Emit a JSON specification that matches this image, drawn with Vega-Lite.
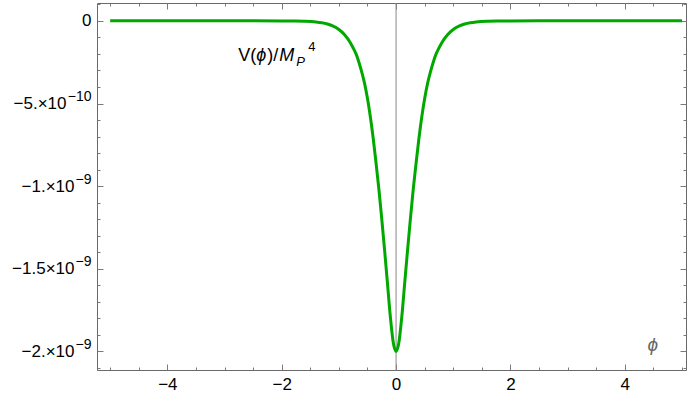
{
  "$schema": "https://vega.github.io/schema/vega-lite/v6.json",
  "width": 589,
  "height": 367,
  "autosize": "none",
  "padding": {"left": 97, "top": 3, "right": 2, "bottom": 27},
  "background": "white",
  "config": {
    "font": "Liberation Sans",
    "view": {"stroke": "#6a6a6a", "strokeWidth": 1},
    "axis": {"grid": false, "domain": false, "title": null, "tickColor": "#7a7a7a", "tickWidth": 1, "labelColor": "#000000", "labelFont": "Liberation Sans", "labelFontSize": 17, "labelOverlap": false, "labelFlush": false}
  },
  "layer": [
    {
      "data": {"values": [{}]},
      "mark": {"type": "rule", "color": "#888888", "strokeWidth": 1},
      "encoding": {
        "x": {"datum": 0, "type": "quantitative", "scale": {"domain": [-5.23, 5.07], "nice": false, "zero": false},
          "axis": {"orient": "top", "labels": false, "tickSize": -6, "values": [-4, -2, 0, 2, 4]}}
      }
    },
    {
      "data": {"values": [
        {"phi": -5, "V": 0}, {"phi": -4, "V": 0}, {"phi": -3, "V": 0}, {"phi": -2.5, "V": 0},
        {"phi": -2.0, "V": -4e-13}, {"phi": -1.8, "V": -1e-12}, {"phi": -1.6, "V": -2.6e-12}, {"phi": -1.4, "V": -7e-12},
        {"phi": -1.3, "V": -1.16e-11}, {"phi": -1.2, "V": -1.9e-11}, {"phi": -1.1, "V": -3.2e-11}, {"phi": -1.0, "V": -5.2e-11},
        {"phi": -0.9, "V": -8.4e-11}, {"phi": -0.8, "V": -1.32e-10}, {"phi": -0.75, "V": -1.64e-10}, {"phi": -0.7, "V": -2.0e-10},
        {"phi": -0.65, "V": -2.5e-10}, {"phi": -0.6, "V": -3.1e-10}, {"phi": -0.55, "V": -3.8e-10}, {"phi": -0.5, "V": -4.7e-10},
        {"phi": -0.45, "V": -5.8e-10}, {"phi": -0.4, "V": -7.1e-10}, {"phi": -0.35, "V": -8.6e-10}, {"phi": -0.3, "V": -1.02e-9},
        {"phi": -0.25, "V": -1.2e-9}, {"phi": -0.2, "V": -1.39e-9}, {"phi": -0.15, "V": -1.59e-9}, {"phi": -0.1, "V": -1.79e-9},
        {"phi": -0.05, "V": -1.944e-9}, {"phi": 0, "V": -2.0e-9},
        {"phi": 0.05, "V": -1.944e-9}, {"phi": 0.1, "V": -1.79e-9}, {"phi": 0.15, "V": -1.59e-9}, {"phi": 0.2, "V": -1.39e-9},
        {"phi": 0.25, "V": -1.2e-9}, {"phi": 0.3, "V": -1.02e-9}, {"phi": 0.35, "V": -8.6e-10}, {"phi": 0.4, "V": -7.1e-10},
        {"phi": 0.45, "V": -5.8e-10}, {"phi": 0.5, "V": -4.7e-10}, {"phi": 0.55, "V": -3.8e-10}, {"phi": 0.6, "V": -3.1e-10},
        {"phi": 0.65, "V": -2.5e-10}, {"phi": 0.7, "V": -2.0e-10}, {"phi": 0.75, "V": -1.64e-10}, {"phi": 0.8, "V": -1.32e-10},
        {"phi": 0.9, "V": -8.4e-11}, {"phi": 1.0, "V": -5.2e-11}, {"phi": 1.1, "V": -3.2e-11}, {"phi": 1.2, "V": -1.9e-11},
        {"phi": 1.3, "V": -1.16e-11}, {"phi": 1.4, "V": -7e-12}, {"phi": 1.6, "V": -2.6e-12}, {"phi": 1.8, "V": -1e-12},
        {"phi": 2.0, "V": -4e-13}, {"phi": 2.5, "V": 0}, {"phi": 3, "V": 0}, {"phi": 4, "V": 0}, {"phi": 5, "V": 0}
      ]},
      "mark": {"type": "line", "color": "#00a800", "strokeWidth": 3, "interpolate": "monotone"},
      "encoding": {
        "x": {"field": "phi", "type": "quantitative", "scale": {"domain": [-5.23, 5.07], "nice": false, "zero": false},
          "axis": {"orient": "bottom", "tickSize": -6, "labelPadding": 12, "values": [-4, -2, 0, 2, 4],
            "labelExpr": "format(datum.value, 'd')"}},
        "y": {"field": "V", "type": "quantitative", "scale": {"domain": [-2.112e-9, 1.08e-10], "nice": false, "zero": false},
          "axis": {"orient": "left", "tickSize": -6, "labelPadding": 12,
            "values": [-2e-9, -1.5e-9, -1e-9, -5e-10, 0],
            "labelExpr": "round(datum.value*1e10) == 0 ? '0' : ''"}}
      }
    },
    {
      "data": {"values": [{"phi": 4.49, "V": -1.963e-9, "t": "ϕ"}]},
      "mark": {"type": "text", "font": "Liberation Sans", "fontSize": 19, "fontStyle": "italic", "color": "#666666", "align": "center", "baseline": "middle"},
      "encoding": {
        "x": {"field": "phi", "type": "quantitative", "axis": null},
        "y": {"field": "V", "type": "quantitative",
          "axis": {"orient": "right", "labels": false, "tickSize": -6, "values": [-2e-9, -1.5e-9, -1e-9, -5e-10, 0]}},
        "text": {"field": "t"}
      }
    },
    {
      "data": {"values": [{"phi": -2.76, "V": -2.42e-10, "t": "V("}]},
      "mark": {"type": "text", "font": "Liberation Sans", "fontSize": 18, "color": "#000000", "align": "left", "baseline": "alphabetic"},
      "encoding": {
        "x": {"field": "phi", "type": "quantitative",
          "axis": {"orient": "bottom", "labels": false, "tickSize": -3, "values": [-5,-4.5,-3.5,-3,-2.5,-1.5,-1,-0.5,0.5,1,1.5,2.5,3,3.5,4.5,5]}},
        "y": {"field": "V", "type": "quantitative",
          "axis": {"orient": "left", "labels": false, "tickSize": -3,
            "values": [-2.1e-9,-1.9e-9,-1.8e-9,-1.7e-9,-1.6e-9,-1.4e-9,-1.3e-9,-1.2e-9,-1.1e-9,-9e-10,-8e-10,-7e-10,-6e-10,-4e-10,-3e-10,-2e-10,-1e-10,1e-10]}},
        "text": {"field": "t"}}
    },
    {
      "data": {"values": [{"phi": -2.76, "V": -2.42e-10, "t": "ϕ"}]},
      "mark": {"type": "text", "font": "Liberation Sans", "fontSize": 18, "fontStyle": "italic", "color": "#000000", "align": "left", "baseline": "alphabetic", "dx": 18},
      "encoding": {
        "x": {"field": "phi", "type": "quantitative",
          "axis": {"orient": "top", "labels": false, "tickSize": -3, "values": [-5,-4.5,-3.5,-3,-2.5,-1.5,-1,-0.5,0.5,1,1.5,2.5,3,3.5,4.5,5]}},
        "y": {"field": "V", "type": "quantitative",
          "axis": {"orient": "left", "ticks": false, "tickSize": 0, "labelPadding": 23,
            "values": [-2e-9, -1.5e-9, -1e-9],
            "labelExpr": "round(datum.value*1e10) == -10 ? '−1.×10' : round(datum.value*1e10) == -15 ? '−1.5×10' : '−2.×10'"}},
        "text": {"field": "t"}}
    },
    {
      "data": {"values": [{"phi": -2.76, "V": -2.42e-10, "t": ")/"}]},
      "mark": {"type": "text", "font": "Liberation Sans", "fontSize": 18, "color": "#000000", "align": "left", "baseline": "alphabetic", "dx": 29},
      "encoding": {
        "x": {"field": "phi", "type": "quantitative", "axis": null},
        "y": {"field": "V", "type": "quantitative",
          "axis": {"orient": "left", "ticks": false, "tickSize": 0, "labelPadding": 31,
            "values": [-5e-10],
            "labelExpr": "'−5.×10'"}},
        "text": {"field": "t"}}
    },
    {
      "data": {"values": [{"phi": -2.76, "V": -2.42e-10, "t": "M"}]},
      "mark": {"type": "text", "font": "Liberation Sans", "fontSize": 18, "fontStyle": "italic", "color": "#000000", "align": "left", "baseline": "alphabetic", "dx": 41},
      "encoding": {
        "x": {"field": "phi", "type": "quantitative", "axis": null},
        "y": {"field": "V", "type": "quantitative",
          "axis": {"orient": "left", "ticks": false, "tickSize": 0, "labelPadding": 6, "labelFontSize": 14, "labelOffset": -7,
            "values": [-2e-9, -1.5e-9, -1e-9, -5e-10],
            "labelExpr": "round(datum.value*1e10) == -5 ? '−10' : '−9'"}},
        "text": {"field": "t"}}
    },
    {
      "data": {"values": [{"phi": -2.76, "V": -2.42e-10, "t": "P"}]},
      "mark": {"type": "text", "font": "Liberation Sans", "fontSize": 13, "fontStyle": "italic", "color": "#000000", "align": "left", "baseline": "alphabetic", "dx": 58, "dy": 5},
      "encoding": {
        "x": {"field": "phi", "type": "quantitative", "axis": null},
        "y": {"field": "V", "type": "quantitative",
          "axis": {"orient": "right", "labels": false, "tickSize": -3,
            "values": [-2.1e-9,-1.9e-9,-1.8e-9,-1.7e-9,-1.6e-9,-1.4e-9,-1.3e-9,-1.2e-9,-1.1e-9,-9e-10,-8e-10,-7e-10,-6e-10,-4e-10,-3e-10,-2e-10,-1e-10,1e-10]}},
        "text": {"field": "t"}}
    },
    {
      "data": {"values": [{"phi": -2.76, "V": -2.42e-10, "t": "4"}]},
      "mark": {"type": "text", "font": "Liberation Sans", "fontSize": 13, "color": "#000000", "align": "left", "baseline": "alphabetic", "dx": 70, "dy": -10},
      "encoding": {"x": {"field": "phi", "type": "quantitative", "axis": null}, "y": {"field": "V", "type": "quantitative", "axis": null}, "text": {"field": "t"}}
    }
  ],
  "resolve": {"axis": {"x": "independent", "y": "independent"}}
}
